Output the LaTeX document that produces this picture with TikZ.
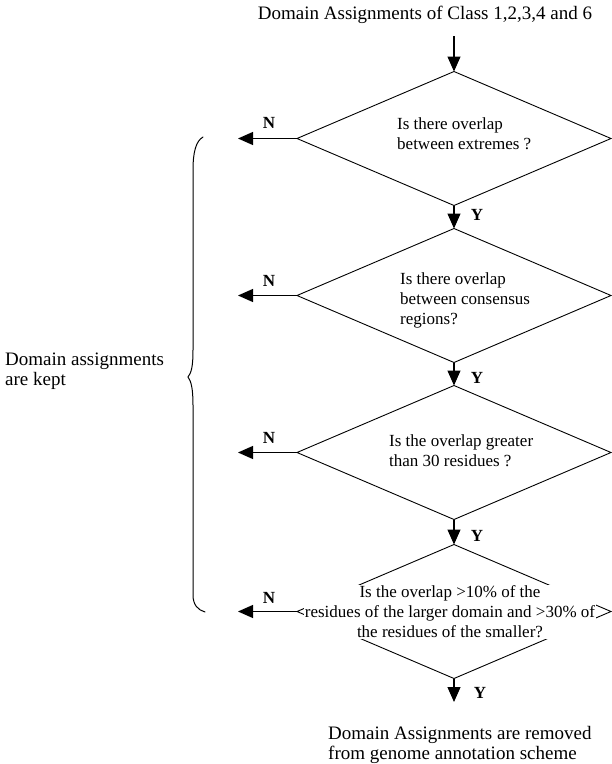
\documentclass[tikz,border=0pt]{standalone}
\usepackage{fontspec}
\setmainfont{Liberation Serif}
\usetikzlibrary{shapes.geometric,arrows.meta}
\begin{document}
\begin{tikzpicture}[x=1pt,y=1pt,
  dia/.style={draw,diamond,minimum width=314pt,minimum height=134pt,inner sep=0pt,outer sep=0pt,line width=0.9pt},
  txt/.style={font=\fontsize{17}{20}\selectfont,inner sep=0pt},
  big/.style={font=\fontsize{19}{20}\selectfont,inner sep=0pt},
  lbl/.style={font=\fontsize{17}{20}\selectfont\bfseries,inner sep=0pt},
  arr/.style={line width=1.2pt,-{Triangle[width=13pt,length=15pt]}},
  bracestyle/.style={line width=1pt,line cap=round}
]
\useasboundingbox (0,0) rectangle (612,-764);
\node[big] (top) at (425,-15) {Domain Assignments of Class 1,2,3,4 and 6};
\node[dia] (d1) at (454,-138.5) {};
\node[dia] (d2) at (454,-295.5) {};
\node[dia] (d3) at (454,-452.5) {};
\node[dia] (d4) at (454,-611.5) {};
\coordinate (s) at (454,-36);
\node[txt,align=left,anchor=west] (t1) at (397,-134) {Is there overlap\\between extremes ?};
\node[txt,align=left,anchor=west] (t2) at (400,-300) {Is there overlap\\between consensus\\regions?};
\node[txt,align=left,anchor=west] (t3) at (389,-451) {Is the overlap greater\\than 30 residues ?};
\node[txt,align=center,fill=white,inner sep=1pt] (t4) at (450,-612) {Is the overlap >10\% of the\\residues of the larger domain and >30\% of\\the residues of the smaller?};
\draw[arr] (s) -- (d1.north);
\draw[arr] (d1.south) -- (d2.north);
\draw[arr] (d2.south) -- (d3.north);
\draw[arr] (d3.south) -- (d4.north);
\coordinate (e) at (454,-702);
\draw[arr] (d4.south) -- (e);
\coordinate (n1) at (238,-138.5);
\coordinate (n2) at (238,-295.5);
\coordinate (n3) at (238,-452.5);
\coordinate (n4) at (238,-611.5);
\draw[arr] (d1.west) -- (n1);
\draw[arr] (d2.west) -- (n2);
\draw[arr] (d3.west) -- (n3);
\draw[arr] (d4.west) -- (n4);
\node[lbl] (N1) at (269,-123) {N};
\node[lbl] (N2) at (269,-281) {N};
\node[lbl] (N3) at (269,-438) {N};
\node[lbl] (N4) at (269,-598) {N};
\node[lbl] (Y1) at (477,-215) {Y};
\node[lbl] (Y2) at (477,-378) {Y};
\node[lbl] (Y3) at (477,-536) {Y};
\node[lbl] (Y4) at (480,-693) {Y};
\node[big,align=left,anchor=west] (kept) at (5,-371) {Domain assignments\\are kept};
\node[big,align=left,anchor=west] (removed) at (328,-745) {Domain Assignments are removed\\from genome annotation scheme};
\draw[bracestyle] (203,-137) .. controls (196,-141) and (193,-152) .. (193,-170)
  -- (193,-350) .. controls (193,-368) and (191,-373) .. (188,-377)
  .. controls (191,-381) and (193,-388) .. (193,-405)
  -- (193,-595) .. controls (193,-605) and (198,-610) .. (205,-612);
\end{tikzpicture}
\end{document}
